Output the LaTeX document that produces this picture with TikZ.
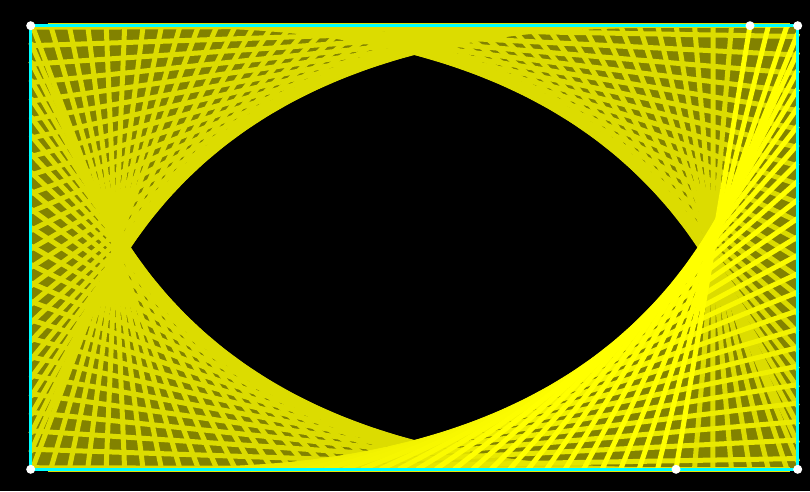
\documentclass[tikz,border=0pt]{standalone}
\definecolor{dimy}{RGB}{220,220,0}
\definecolor{briy}{RGB}{255,255,0}
\definecolor{gapy}{RGB}{130,130,0}
\definecolor{cyanb}{RGB}{0,255,255}
\begin{document}
\begin{tikzpicture}[x=1pt,y=-1pt,
  declare function={
    px(\s)=(\s<767)?(30.7+\s):((\s<1210.6)?797.7:((\s<1977.6)?(2008.3-\s):30.7));
    py(\s)=(\s<767)?25.7:((\s<1210.6)?(\s-741.3):((\s<1977.6)?469.3:(2446.9-\s)));
  },
  stringline/.style={line width=5pt},
  frame/.style={draw=cyanb,line width=3.5pt},
  dot/.style={circle,fill=white,inner sep=0pt,minimum size=9pt}]
\fill[black] (0,0) rectangle (810,491);
\useasboundingbox (0,0) rectangle (810,491);
\coordinate (tl) at (30.7,25.7);
\coordinate (tr) at (797.7,25.7);
\coordinate (br) at (797.7,469.3);
\coordinate (bl) at (30.7,469.3);
% olive background between the strings, with the eye left black
\fill[gapy,even odd rule] (tl) rectangle (br)
  plot[domain=0.39848:0.79096,samples=60,variable=\u] ({30.7+613*\u*\u},{25.7+613*(1-\u)*(1-\u)})
  -- plot[domain=0.79096:0.39848,samples=60,variable=\u] ({797.7-613*\u*\u},{25.7+613*(1-\u)*(1-\u)})
  -- plot[domain=0.39848:0.79096,samples=60,variable=\u] ({797.7-613*\u*\u},{469.3-613*(1-\u)*(1-\u)})
  -- plot[domain=0.79096:0.39848,samples=60,variable=\u] ({30.7+613*\u*\u},{469.3-613*(1-\u)*(1-\u)})
  -- cycle;
% strings, oldest first; the newest ones are brighter
\foreach \k in {130,129,...,0}{
  \pgfmathsetmacro{\sa}{719.3+\k*18.4824}
  \pgfmathsetmacro{\sa}{\sa>=2421.2 ? \sa-2421.2 : \sa}
  \pgfmathsetmacro{\sb}{\sa+613}
  \pgfmathsetmacro{\sb}{\sb>=2421.2 ? \sb-2421.2 : \sb}
  \pgfmathtruncatemacro{\pc}{min(100,max(0,(32-\k)*5))}
  \draw[stringline,draw=briy!\pc!dimy] ({px(\sa)},{py(\sa)}) -- ({px(\sb)},{py(\sb)});
}
\draw[frame] (tl) rectangle (br);
\node[dot] (ctl) at (tl) {};
\node[dot] (ctr) at (tr) {};
\node[dot] (cbr) at (br) {};
\node[dot] (cbl) at (bl) {};
\node[dot] (pa) at ({px(719.3)},{py(719.3)}) {};
\node[dot] (pb) at ({px(1332.3)},{py(1332.3)}) {};
\end{tikzpicture}
\end{document}
